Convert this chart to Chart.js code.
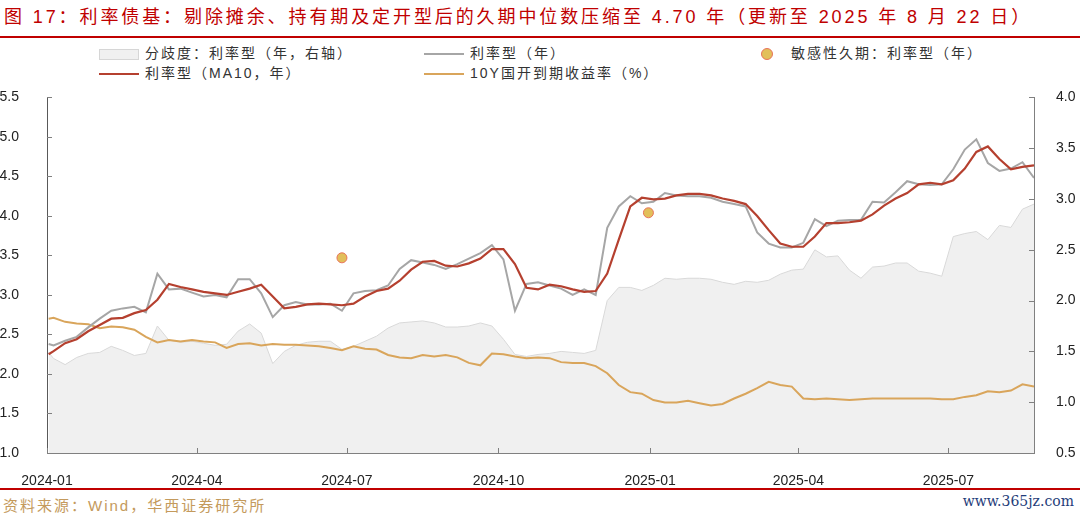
<!DOCTYPE html>
<html>
<head>
<meta charset="utf-8">
<script src="https://cdn.jsdelivr.net/npm/chart.js@4.4.0/dist/chart.umd.min.js"></script>
<style>
  body { margin: 0; width: 1080px; height: 516px; background: #fff; position: relative; overflow: hidden;
         font-family: "Liberation Sans", Arial, "Noto Sans CJK SC", sans-serif; }
  #title { position: absolute; left: 4px; top: 2px; font-size: 18px; color: #c00000; letter-spacing: 2.9px; white-space: nowrap; }
  .rule { position: absolute; left: 0; width: 1080px; height: 2px; background: #c00000; }
  .leg { position: absolute; font-size: 14px; color: #333; letter-spacing: 2px; white-space: nowrap; line-height: 18px; }
  .sym { display: inline-block; vertical-align: middle; margin-right: 6px; }
  #chartBox { position: absolute; left: 0; top: 69px; width: 1080px; height: 417px; }
  #source { position: absolute; left: 3px; top: 494px; font-size: 15px; letter-spacing: 2px; color: #c49a5c; }
  #mark { position: absolute; right: 6px; top: 493px; font-size: 14px; color: #1f3d7a; font-family: "DejaVu Serif", serif; }
</style>
</head>
<body>
<div id="title">图 17：利率债基：剔除摊余、持有期及定开型后的久期中位数压缩至 4.70 年（更新至 2025 年 8 月 22 日）</div>
<div class="rule" style="top:36px"></div>

<div class="leg" style="left:99px;top:44px"><span class="sym" style="width:38px;height:9px;background:#f0f0f0;border:1px solid #d6d6d6"></span>分歧度：利率型（年，右轴）</div>
<div class="leg" style="left:424px;top:44px"><span class="sym" style="width:40px;height:2px;background:#a6a6a6"></span>利率型（年）</div>
<div class="leg" style="left:761px;top:44px"><span class="sym" style="width:10px;height:10px;border-radius:50%;background:#e2bf5a;border:1px solid #e8735a;margin-right:18px"></span>敏感性久期：利率型（年）</div>
<div class="leg" style="left:99px;top:64px"><span class="sym" style="width:40px;height:2px;background:#b5402f"></span>利率型（MA10，年）</div>
<div class="leg" style="left:424px;top:64px"><span class="sym" style="width:40px;height:2px;background:#d9a55b"></span>10Y国开到期收益率（%）</div>

<div id="chartBox"><canvas id="lineCanvas"></canvas></div>

<div class="rule" style="top:488px"></div>
<div id="source">资料来源：Wind，华西证券研究所</div>
<div id="mark">www.365jz.com</div>

<script>
// weekly dates (fridays) plus first trading day
let dates = [
  '2024-01-02','2024-01-05','2024-01-12','2024-01-19','2024-01-26','2024-02-02','2024-02-09','2024-02-16','2024-02-23','2024-03-01',
  '2024-03-08','2024-03-15','2024-03-22','2024-03-29','2024-04-05','2024-04-12','2024-04-19','2024-04-26','2024-05-03','2024-05-10',
  '2024-05-17','2024-05-24','2024-05-31','2024-06-07','2024-06-14','2024-06-21','2024-06-28','2024-07-05','2024-07-12','2024-07-19',
  '2024-07-26','2024-08-02','2024-08-09','2024-08-16','2024-08-23','2024-08-30','2024-09-06','2024-09-13','2024-09-20','2024-09-27',
  '2024-10-04','2024-10-11','2024-10-18','2024-10-25','2024-11-01','2024-11-08','2024-11-15','2024-11-22','2024-11-29','2024-12-06',
  '2024-12-13','2024-12-20','2024-12-27','2025-01-03','2025-01-10','2025-01-17','2025-01-24','2025-01-31','2025-02-07','2025-02-14',
  '2025-02-21','2025-02-28','2025-03-07','2025-03-14','2025-03-21','2025-03-28','2025-04-04','2025-04-11','2025-04-18','2025-04-25',
  '2025-05-02','2025-05-09','2025-05-16','2025-05-23','2025-05-30','2025-06-06','2025-06-13','2025-06-20','2025-06-27','2025-07-04',
  '2025-07-11','2025-07-18','2025-07-25','2025-08-01','2025-08-08','2025-08-15','2025-08-22'
];

// 分歧度：利率型（年，右轴）
let fenqiData = [
  1.49,1.43,1.37,1.44,1.48,1.49,1.55,1.51,1.46,1.48,
  1.75,1.61,1.59,1.60,1.58,1.56,1.57,1.70,1.77,1.68,
  1.38,1.50,1.56,1.59,1.60,1.60,1.52,1.55,1.60,1.65,
  1.73,1.78,1.79,1.80,1.78,1.74,1.74,1.75,1.78,1.75,
  1.62,1.47,1.45,1.47,1.48,1.50,1.49,1.48,1.51,2.00,
  2.13,2.13,2.10,2.15,2.22,2.21,2.22,2.22,2.21,2.18,
  2.16,2.19,2.18,2.20,2.26,2.30,2.31,2.50,2.43,2.44,
  2.30,2.22,2.33,2.34,2.37,2.37,2.29,2.27,2.24,2.63,
  2.66,2.68,2.60,2.74,2.72,2.90,2.95
];

// 利率型（年）
let durationData = [
  2.38,2.36,2.42,2.47,2.59,2.70,2.80,2.83,2.85,2.78,
  3.27,3.07,3.08,3.03,2.98,3.00,2.97,3.20,3.20,3.02,
  2.72,2.87,2.91,2.88,2.88,2.89,2.80,3.02,3.05,3.06,
  3.12,3.33,3.44,3.41,3.38,3.33,3.39,3.46,3.53,3.63,
  3.45,2.80,3.14,3.16,3.12,3.08,3.00,3.07,3.00,3.85,
  4.12,4.25,4.16,4.18,4.29,4.26,4.25,4.25,4.23,4.18,
  4.15,4.12,3.79,3.65,3.60,3.60,3.66,3.96,3.87,3.94,
  3.95,3.95,4.18,4.17,4.30,4.44,4.40,4.39,4.40,4.59,
  4.84,4.97,4.67,4.57,4.60,4.68,4.48
];

// 利率型（MA10，年）
let durationMA10 = [
  2.25,2.29,2.39,2.44,2.54,2.62,2.70,2.71,2.77,2.81,
  2.94,3.14,3.10,3.07,3.04,3.02,3.00,3.04,3.08,3.13,
  2.98,2.83,2.85,2.88,2.89,2.88,2.87,2.89,2.98,3.05,
  3.08,3.18,3.32,3.42,3.43,3.37,3.36,3.40,3.46,3.58,
  3.58,3.39,3.09,3.07,3.13,3.11,3.07,3.04,3.05,3.27,
  3.70,4.12,4.23,4.21,4.22,4.26,4.28,4.28,4.26,4.22,
  4.19,4.15,4.00,3.82,3.65,3.61,3.61,3.74,3.91,3.91,
  3.92,3.94,4.02,4.13,4.22,4.29,4.40,4.42,4.40,4.45,
  4.60,4.81,4.88,4.72,4.59,4.62,4.64
];

// 10Y国开到期收益率（%）
let cdb10yData = [
  2.70,2.71,2.66,2.64,2.63,2.58,2.60,2.59,2.56,2.47,
  2.40,2.43,2.41,2.43,2.41,2.40,2.33,2.38,2.39,2.36,
  2.38,2.37,2.37,2.36,2.35,2.33,2.30,2.35,2.32,2.31,
  2.24,2.21,2.20,2.24,2.22,2.24,2.21,2.14,2.11,2.26,
  2.25,2.22,2.20,2.21,2.20,2.15,2.14,2.14,2.10,2.01,
  1.86,1.77,1.75,1.67,1.64,1.64,1.66,1.63,1.60,1.62,
  1.69,1.75,1.82,1.90,1.86,1.84,1.69,1.68,1.69,1.68,
  1.67,1.68,1.69,1.69,1.69,1.69,1.69,1.69,1.68,1.68,
  1.71,1.73,1.78,1.77,1.79,1.87,1.84
];

// 敏感性久期：利率型（年）
let sensDates = ['2024-06-28', '2024-12-31'];
let sensData = [3.47, 4.04];

let tickDates = ['2024-01-01','2024-04-01','2024-07-01','2024-10-01','2025-01-01','2025-04-01','2025-07-01'];
let startDate = '2024-01-01';
let endDate = '2025-08-22';

// days since start date
function dayOf(s) {
  return (Date.parse(s + 'T00:00:00Z') - Date.parse(startDate + 'T00:00:00Z')) / 86400000;
}
function pairs(xs, ys) {
  return xs.map(function (d, i) { return { x: dayOf(d), y: ys[i] }; });
}

let tickDays = tickDates.map(dayOf);

// small tick marks pointing into the plot
const innerTicks = {
  id: 'innerTicks',
  afterDraw(chart) {
    const ctx = chart.ctx, a = chart.chartArea;
    const sx = chart.scales.x, sy = chart.scales.y, sy2 = chart.scales.y2;
    ctx.save();
    ctx.strokeStyle = '#808080';
    ctx.lineWidth = 1;
    ctx.beginPath();
    sx.ticks.forEach(function (t) {
      const px = Math.round(sx.getPixelForValue(t.value)) + 0.5;
      ctx.moveTo(px, a.bottom); ctx.lineTo(px, a.bottom - 5);
    });
    sy.ticks.forEach(function (t) {
      const py = Math.round(sy.getPixelForValue(t.value)) + 0.5;
      ctx.moveTo(a.left, py); ctx.lineTo(a.left + 5, py);
    });
    sy2.ticks.forEach(function (t) {
      const py = Math.round(sy2.getPixelForValue(t.value)) + 0.5;
      ctx.moveTo(a.right, py); ctx.lineTo(a.right - 5, py);
    });
    ctx.stroke();
    ctx.restore();
  }
};

let tickFont = { family: '"Liberation Sans", Arial, sans-serif', size: 14 };

let lineChart = new Chart(document.getElementById('lineCanvas').getContext('2d'), {
  type: 'line',
  data: {
    datasets: [
      {
        type: 'scatter',
        label: '敏感性久期：利率型（年）',
        data: pairs(sensDates, sensData),
        yAxisID: 'y',
        pointRadius: 5,
        pointBackgroundColor: '#e2bf5a',
        pointBorderColor: '#e8735a',
        pointBorderWidth: 1
      },
      {
        label: '利率型（MA10，年）',
        data: pairs(dates, durationMA10),
        yAxisID: 'y',
        borderColor: '#b5402f',
        borderWidth: 2.2,
        pointRadius: 0,
        tension: 0
      },
      {
        label: '利率型（年）',
        data: pairs(dates, durationData),
        yAxisID: 'y',
        borderColor: '#a6a6a6',
        borderWidth: 2,
        pointRadius: 0,
        tension: 0
      },
      {
        label: '10Y国开到期收益率（%）',
        data: pairs(dates, cdb10yData),
        yAxisID: 'y',
        borderColor: '#d9a55b',
        borderWidth: 2,
        pointRadius: 0,
        tension: 0
      },
      {
        label: '分歧度：利率型（年，右轴）',
        data: pairs(dates, fenqiData),
        yAxisID: 'y2',
        borderColor: '#d9d9d9',
        borderWidth: 1,
        backgroundColor: '#f0f0f0',
        fill: 'start',
        pointRadius: 0,
        tension: 0
      }
    ]
  },
  options: {
    responsive: true,
    maintainAspectRatio: false,
    animation: false,
    layout: { padding: { top: 10, left: 0, right: 0, bottom: 0 } },
    plugins: {
      legend: { display: false },
      tooltip: { enabled: false }
    },
    scales: {
      x: {
        type: 'linear',
        min: 0,
        max: dayOf(endDate),
        afterBuildTicks: function (scale) {
          scale.ticks = tickDays.map(function (v) { return { value: v }; });
        },
        afterFit: function (scale) { scale.height = 33; },
        grid: { display: false },
        border: { display: true, color: '#808080', width: 1 },
        ticks: {
          padding: 12,
          color: '#222',
          font: tickFont,
          maxRotation: 0,
          callback: function (v) {
            let i = tickDays.indexOf(v);
            return i >= 0 ? tickDates[i].slice(0, 7) : '';
          }
        }
      },
      y: {
        position: 'left',
        min: 1.0,
        max: 5.5,
        afterFit: function (scale) { scale.width = 47; },
        grid: { display: false },
        border: { display: true, color: '#595959', width: 1 },
        ticks: {
          stepSize: 0.5,
          padding: 20,
          color: '#222',
          font: tickFont,
          callback: function (v) { return v.toFixed(1); }
        }
      },
      y2: {
        position: 'right',
        min: 0.5,
        max: 4.0,
        afterFit: function (scale) { scale.width = 46; },
        grid: { display: false },
        border: { display: true, color: '#808080', width: 1 },
        ticks: {
          stepSize: 0.5,
          padding: 14,
          color: '#222',
          font: tickFont,
          callback: function (v) { return v.toFixed(1); }
        }
      }
    }
  },
  plugins: [innerTicks]
});
</script>
</body>
</html>
